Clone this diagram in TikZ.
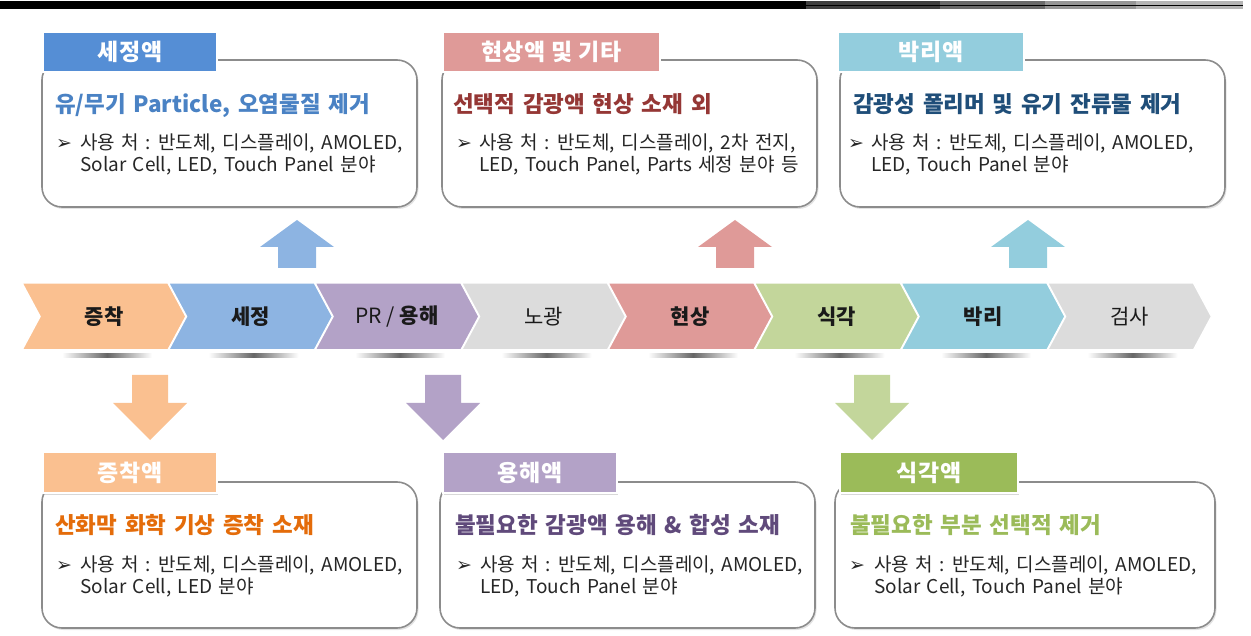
\documentclass[tikz,border=0pt]{standalone}
\usepackage{fontspec}
\setmainfont{Noto Sans CJK KR}
\newfontfamily\headfont[WordSpace=2]{Noto Sans CJK KR}
\newfontfamily\bodyfont[WordSpace=1.5]{Noto Sans CJK KR}
\newfontfamily\lblfont[LetterSpace=3]{Noto Sans CJK KR}
\newfontfamily\bulfont{DejaVu Sans}
\usetikzlibrary{shadows}
\definecolor{cOrange}{HTML}{FAC090}
\definecolor{cBlue}{HTML}{8DB4E2}
\definecolor{cBlueL}{HTML}{558ED5}
\definecolor{cPurple}{HTML}{B3A2C7}
\definecolor{cGray}{HTML}{DCDCDC}
\definecolor{cRed}{HTML}{DF9A98}
\definecolor{cGreen}{HTML}{C3D69B}
\definecolor{cGreenL}{HTML}{9BBB59}
\definecolor{cCyan}{HTML}{93CDDD}
\definecolor{cBorder}{HTML}{8C8C8C}
\definecolor{cText}{HTML}{262626}
\definecolor{cDark}{HTML}{1A1A1A}
\definecolor{hBlue}{HTML}{4A82C4}
\definecolor{hRed}{HTML}{953735}
\definecolor{hNavy}{HTML}{1F4E79}
\definecolor{hOrange}{HTML}{E46C0A}
\definecolor{hPurple}{HTML}{604A7B}
\definecolor{hGreen}{HTML}{9BBB59}
\definecolor{bar1}{HTML}{3F3F3F}
\definecolor{bar2}{HTML}{6B6B6B}
\definecolor{bar3}{HTML}{969696}
\definecolor{bar4}{HTML}{B5B5B5}
\tikzset{
  infobox/.style={draw=cBorder, line width=1.6pt, rounded corners=20pt, fill=white, inner sep=0pt,
    drop shadow={shadow xshift=1.5pt, shadow yshift=-2pt, opacity=0.22}},
  lbl/.style={draw=white, line width=1.5pt, text=white, inner sep=0pt,
    font=\lblfont\bfseries\fontsize{23}{23}\selectfont,
    drop shadow={shadow xshift=1pt, shadow yshift=-1.5pt, opacity=0.3}},
  head/.style={anchor=base west, inner sep=0pt, font=\headfont\bfseries\fontsize{22.5}{22.5}\selectfont},
  body/.style={anchor=base west, inner sep=0pt, text=cText, font=\bodyfont\fontsize{19}{19}\selectfont},
  bul/.style={anchor=base west, inner sep=0pt, text=cText, font=\bulfont\fontsize{19}{19}\selectfont},
  chevtxt/.style={inner sep=0pt, text=cDark, font=\fontsize{21}{21}\selectfont},
  chev/.style={draw=white, line width=1.5pt},
}
\begin{document}
\begin{tikzpicture}[x=1pt,y=-1pt]
\useasboundingbox (0,0) rectangle (1251,636);
% top bar
\fill[black] (0,1) rectangle (806,9);
\fill[bar1] (806,1) rectangle (940,9);
\fill[bar2] (940,1) rectangle (1045,9);
\fill[bar3] (1045,1) rectangle (1136,9);
\fill[bar4] (1136,1) rectangle (1243,9);
\draw[black, line width=0.8pt] (806,5) -- (1243,5);

% chevrons
\foreach \i/\col/\txt in {0/cOrange/{\bfseries 증착},1/cBlue/{\bfseries 세정},2/cPurple/{PR / \bfseries 용해},3/cGray/{노광},4/cRed/{\bfseries 현상},5/cGreen/{\bfseries 식각},6/cCyan/{\bfseries 박리},7/cGray/{검사}}{
  \pgfmathsetmacro\xo{22+146.5*\i}
  \filldraw[chev, fill=\col] (\xo,283) -- ++(146,0) -- ++(18,33.5) -- ++(-18,33.5) -- ++(-146,0) -- ++(18,-33.5) -- cycle;
  \node[chevtxt] (c\i) at (\xo+82,316.5) {\txt};
  \shade[left color=white, right color=white, middle color=black!60] (\xo+40,353.5) rectangle (\xo+130,358);
}

% block arrows up
\foreach \cx/\col in {297/cBlue,735/cRed,1028/cCyan}{
  \fill[\col] (\cx-19,268) -- (\cx-19,247) -- (\cx-37,247) -- (\cx,220) -- (\cx+37,247) -- (\cx+19,247) -- (\cx+19,268) -- cycle;
}
% block arrows down
\foreach \cx/\col in {150/cOrange,443/cPurple,872/cGreen}{
  \fill[\col] (\cx-18,375) -- (\cx-18,403) -- (\cx-37,403) -- (\cx,440) -- (\cx+37,403) -- (\cx+18,403) -- (\cx+18,375) -- cycle;
}

% top boxes
\node[infobox, minimum width=375, minimum height=147] (b1) at (229.5,133.5) {};
\node[infobox, minimum width=375, minimum height=147] (b2) at (629.5,133.5) {};
\node[infobox, minimum width=385, minimum height=147] (b3) at (1032.5,133.5) {};
\node[lbl, fill=cBlueL, minimum width=174, minimum height=40] (l1) at (130,52) {세정액};
\node[lbl, fill=cRed, minimum width=217, minimum height=40] (l2) at (551.5,52) {현상액 및 기타};
\node[lbl, fill=cCyan, minimum width=186, minimum height=40] (l3) at (931,52) {박리액};

\node[head, text=hBlue] (h1) at (55,113) {유/무기 Particle, 오염물질 제거};
\node[bul] (u1) at (56,150) {➢};
\node[body] (t1a) at (80,150) {사용 처 : 반도체, 디스플레이, AMOLED,};
\node[body] (t1b) at (80,172) {Solar Cell, LED, Touch Panel 분야};

\node[head, text=hRed] (h2) at (453,113) {선택적 감광액 현상 소재 외};
\node[bul] (u2) at (456,150) {➢};
\node[body] (t2a) at (479,150) {사용 처 : 반도체, 디스플레이, 2차 전지,};
\node[body] (t2b) at (479,172) {LED, Touch Panel, Parts 세정 분야 등};

\node[head, text=hNavy] (h3) at (853,113) {감광성 폴리머 및 유기 잔류물 제거};
\node[bul] (u3) at (848,150) {➢};
\node[body] (t3a) at (871,150) {사용 처 : 반도체, 디스플레이, AMOLED,};
\node[body] (t3b) at (871,172) {LED, Touch Panel 분야};

% bottom boxes
\node[infobox, minimum width=375, minimum height=146] (d1) at (229.5,555) {};
\node[infobox, minimum width=375, minimum height=146] (d2) at (627.5,555) {};
\node[infobox, minimum width=380, minimum height=146] (d3) at (1025,555) {};
\node[lbl, fill=cOrange, minimum width=174, minimum height=41] (m1) at (130,472.5) {증착액};
\node[lbl, fill=cPurple, minimum width=174, minimum height=41] (m2) at (530,472.5) {용해액};
\node[lbl, fill=cGreenL, minimum width=178, minimum height=41] (m3) at (929,472.5) {식각액};

\node[head, text=hOrange] (h4) at (55,533) {산화막 화학 기상 증착 소재};
\node[bul] (u4) at (56,571) {➢};
\node[body] (t4a) at (80,571) {사용 처 : 반도체, 디스플레이, AMOLED,};
\node[body] (t4b) at (80,593) {Solar Cell, LED 분야};

\node[head, text=hPurple] (h5) at (455,533) {불필요한 감광액 용해 \& 합성 소재};
\node[bul] (u5) at (456,571) {➢};
\node[body] (t5a) at (480,571) {사용 처 : 반도체, 디스플레이, AMOLED,};
\node[body] (t5b) at (480,593) {LED, Touch Panel 분야};

\node[head, text=hGreen] (h6) at (850,533) {불필요한 부분 선택적 제거};
\node[bul] (u6) at (849,571) {➢};
\node[body] (t6a) at (874,571) {사용 처 : 반도체, 디스플레이, AMOLED,};
\node[body] (t6b) at (874,593) {Solar Cell, Touch Panel 분야};
\end{tikzpicture}
\end{document}
